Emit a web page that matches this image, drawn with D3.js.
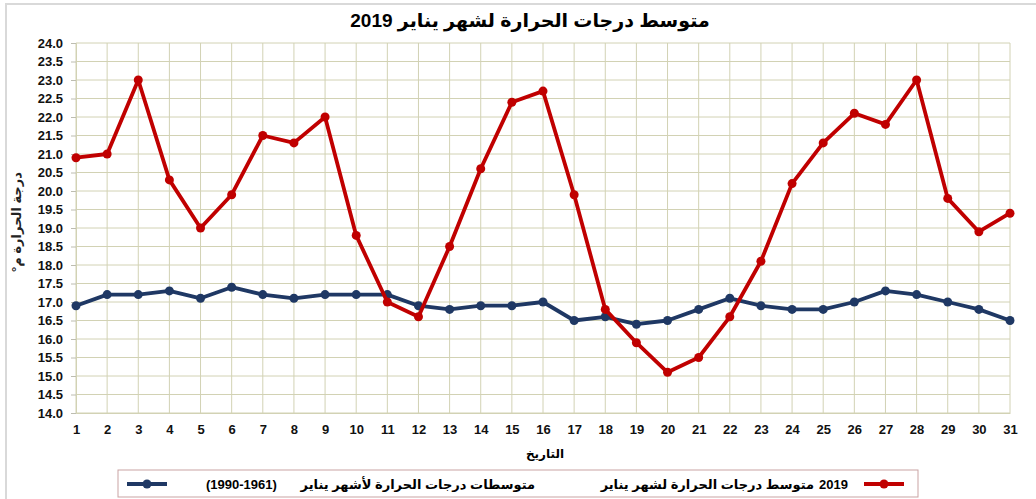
<!DOCTYPE html>
<html>
<head>
<meta charset="utf-8">
<script src="https://cdn.jsdelivr.net/npm/d3@7"></script>
<style>
    html, body { margin: 0; padding: 0; background: #fff; }
    svg text { font-family: "Liberation Sans", Arial, "DejaVu Sans", sans-serif; }
</style>
</head>
<body>
<div id="chart"></div>
<script>
    "use strict"

    // -------------------------------------
    // Data
    // -------------------------------------

    var days = d3.range(1, 32)
    var yTicks = d3.range(14, 24.01, 0.5)

    var temp2019 = [20.9, 21.0, 23.0, 20.3, 19.0, 19.9, 21.5, 21.3, 22.0, 18.8,
        17.0, 16.6, 18.5, 20.6, 22.4, 22.7, 19.9, 16.8, 15.9, 15.1,
        15.5, 16.6, 18.1, 20.2, 21.3, 22.1, 21.8, 23.0, 19.8, 18.9, 19.4]

    var tempNormal = [16.9, 17.2, 17.2, 17.3, 17.1, 17.4, 17.2, 17.1, 17.2, 17.2,
        17.2, 16.9, 16.8, 16.9, 16.9, 17.0, 16.5, 16.6, 16.4, 16.5,
        16.8, 17.1, 16.9, 16.8, 16.8, 17.0, 17.3, 17.2, 17.0, 16.8, 16.5]

    var title = 'متوسط درجات الحرارة لشهر يناير 2019'
    var xTitle = 'التاريخ'
    var yTitle = 'درجة الحرارة م°'
    var legendRed = 'متوسط درجات الحرارة لشهر يناير'
    var legendRedYear = '2019'
    var legendBlue = 'متوسطات درجات الحرارة لأشهر يناير'
    var legendBlueYears = '(1990-1961)'

    var red = '#c00000'
    var blue = '#1f3864'
    var gridColor = '#d2d2b4'

    // -------------------------------------
    // Chart
    // -------------------------------------

    var W = 1036, H = 499

    var svg = d3.select('#chart').append('svg')
        .attr('width', W)
        .attr('height', H)

    // outer frame
    svg.append('rect')
        .attr('x', 6).attr('y', 4)
        .attr('width', 1100).attr('height', 600)
        .attr('fill', 'none')
        .attr('stroke', '#d9d9d9')
        .attr('stroke-width', 2)

    var x = d3.scaleLinear().domain([1, 31]).range([76, 1010])
    var y = d3.scaleLinear().domain([14, 24]).range([413, 43])

    // grid
    svg.append('g')
        .selectAll('line')
        .data(yTicks)
        .enter().append('line')
        .attr('x1', x(1)).attr('x2', x(31))
        .attr('y1', d => y(d)).attr('y2', d => y(d))
        .attr('stroke', gridColor)
        .attr('stroke-width', 1)

    svg.append('g')
        .selectAll('line')
        .data(days)
        .enter().append('line')
        .attr('x1', d => x(d)).attr('x2', d => x(d))
        .attr('y1', y(24)).attr('y2', y(14))
        .attr('stroke', gridColor)
        .attr('stroke-width', 1)

    // y axis
    var yAxis = svg.append('g')
        .attr('transform', `translate(${x(1)},0)`)
        .call(d3.axisLeft(y).tickValues(yTicks).tickFormat(d3.format('.1f')).tickSize(5).tickPadding(8))
    yAxis.select('.domain').attr('stroke', gridColor)
    yAxis.selectAll('.tick line').attr('stroke', '#bdbdb0')
    yAxis.selectAll('text')
        .attr('font-size', 13)
        .attr('font-weight', 'bold')
        .attr('fill', '#111')
        .style('font-family', '"Liberation Sans", Arial, sans-serif')

    // x axis
    var xAxis = svg.append('g')
        .attr('transform', `translate(0,${y(14)})`)
        .call(d3.axisBottom(x).tickValues(days).tickFormat(d3.format('d')).tickSize(0).tickPadding(12))
    xAxis.select('.domain').attr('stroke', gridColor)
    xAxis.selectAll('text')
        .attr('font-size', 13)
        .attr('font-weight', 'bold')
        .attr('fill', '#111')
        .style('font-family', '"Liberation Sans", Arial, sans-serif')

    // -------------------------------------
    // Series
    // -------------------------------------

    var line = d3.line()
        .x((d, i) => x(days[i]))
        .y(d => y(d))

    function drawSeries(values, color) {
        var g = svg.append('g')
        g.append('path')
            .datum(values)
            .attr('fill', 'none')
            .attr('stroke', color)
            .attr('stroke-width', 3.8)
            .attr('stroke-linejoin', 'round')
            .attr('d', line)
        g.selectAll('circle')
            .data(values)
            .enter().append('circle')
            .attr('cx', (d, i) => x(days[i]))
            .attr('cy', d => y(d))
            .attr('r', 4.5)
            .attr('fill', color)
    }

    drawSeries(tempNormal, blue)
    drawSeries(temp2019, red)

    // -------------------------------------
    // Titles
    // -------------------------------------

    svg.append('text')
        .attr('x', 530).attr('y', 27)
        .attr('text-anchor', 'middle')
        .attr('direction', 'rtl')
        .attr('font-size', 19)
        .attr('font-weight', 'bold')
        .attr('fill', '#000')
        .text(title)

    svg.append('text')
        .attr('x', 545).attr('y', 458)
        .attr('text-anchor', 'middle')
        .attr('font-size', 12)
        .attr('font-weight', 'bold')
        .attr('fill', '#000')
        .text(xTitle)

    svg.append('text')
        .attr('transform', 'translate(21,222) rotate(-90)')
        .attr('text-anchor', 'middle')
        .attr('direction', 'rtl')
        .attr('font-size', 13)
        .attr('font-weight', 'bold')
        .attr('fill', '#222')
        .text(yTitle)

    // -------------------------------------
    // Legend
    // -------------------------------------

    var legend = svg.append('g')

    legend.append('rect')
        .attr('x', 118).attr('y', 470)
        .attr('width', 800).attr('height', 27)
        .attr('fill', '#fff')
        .attr('stroke', '#c9a3a3')
        .attr('stroke-width', 1)

    function legendSymbol(cx, color) {
        legend.append('line')
            .attr('x1', cx - 20).attr('x2', cx + 20)
            .attr('y1', 484).attr('y2', 484)
            .attr('stroke', color)
            .attr('stroke-width', 3.8)
        legend.append('circle')
            .attr('cx', cx).attr('cy', 484)
            .attr('r', 4.5)
            .attr('fill', color)
    }

    legendSymbol(147, blue)
    legend.append('text')
        .attr('x', 206).attr('y', 489)
        .attr('font-size', 13).attr('font-weight', 'bold')
        .text(legendBlueYears)
    legend.append('text')
        .attr('x', 535).attr('y', 489)
        .attr('text-anchor', 'end')
        .attr('font-size', 13).attr('font-weight', 'bold')
        .text(legendBlue)

    legend.append('text')
        .attr('x', 814).attr('y', 489)
        .attr('text-anchor', 'end')
        .attr('font-size', 13).attr('font-weight', 'bold')
        .text(legendRed)
    legend.append('text')
        .attr('x', 819).attr('y', 489)
        .attr('font-size', 13).attr('font-weight', 'bold')
        .text(legendRedYear)
    legendSymbol(884, red)
</script>
</body>
</html>
